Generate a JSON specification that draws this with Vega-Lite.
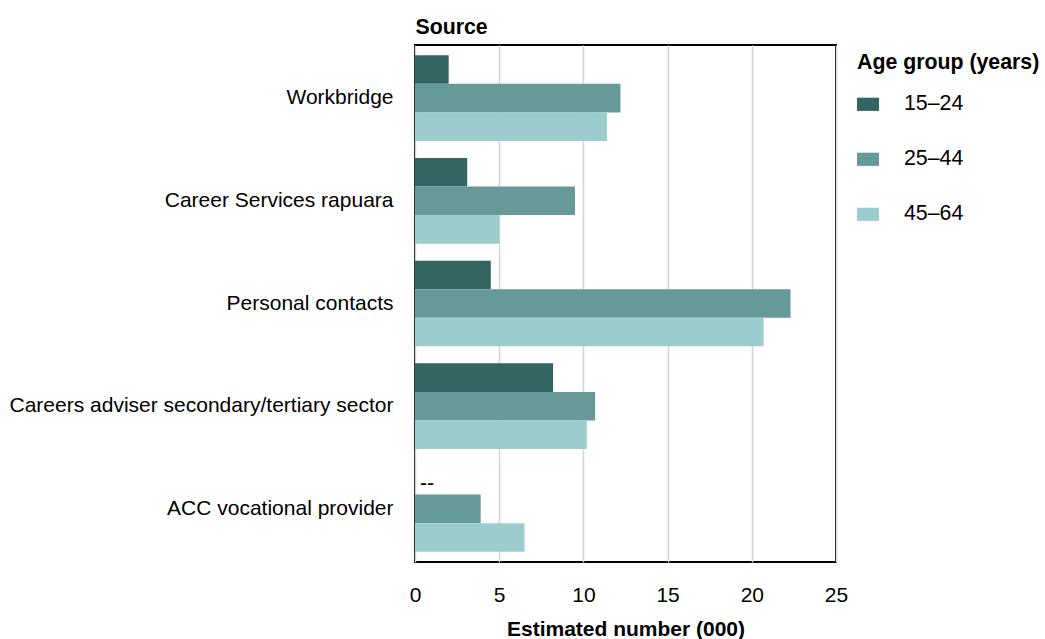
{
  "$schema": "https://vega.github.io/schema/vega-lite/v6.json",
  "autosize": "none",
  "padding": {"left": 415, "top": 45, "right": 209, "bottom": 77},
  "width": 421,
  "height": 517,
  "background": "white",
  "config": {
    "font": "Liberation Sans",
    "view": {"stroke": "#000000", "strokeWidth": 2},
    "axis": {"labelColor": "#000000", "titleColor": "#000000"},
    "legend": {"labelColor": "#000000", "titleColor": "#000000"}
  },
  "data": {
    "values": [
      {"source": "Workbridge", "age": "15–24", "value": 2.0, "label": null},
      {"source": "Workbridge", "age": "25–44", "value": 12.2, "label": null},
      {"source": "Workbridge", "age": "45–64", "value": 11.4, "label": null},
      {"source": "Career Services rapuara", "age": "15–24", "value": 3.1, "label": null},
      {"source": "Career Services rapuara", "age": "25–44", "value": 9.5, "label": null},
      {"source": "Career Services rapuara", "age": "45–64", "value": 5.0, "label": null},
      {"source": "Personal contacts", "age": "15–24", "value": 4.5, "label": null},
      {"source": "Personal contacts", "age": "25–44", "value": 22.3, "label": null},
      {"source": "Personal contacts", "age": "45–64", "value": 20.7, "label": null},
      {"source": "Careers adviser secondary/tertiary sector", "age": "15–24", "value": 8.2, "label": null},
      {"source": "Careers adviser secondary/tertiary sector", "age": "25–44", "value": 10.7, "label": null},
      {"source": "Careers adviser secondary/tertiary sector", "age": "45–64", "value": 10.2, "label": null},
      {"source": "ACC vocational provider", "age": "15–24", "value": null, "label": "--"},
      {"source": "ACC vocational provider", "age": "25–44", "value": 3.9, "label": null},
      {"source": "ACC vocational provider", "age": "45–64", "value": 6.5, "label": null}
    ]
  },
  "encoding": {
    "y": {
      "field": "source",
      "type": "nominal",
      "sort": ["Workbridge", "Career Services rapuara", "Personal contacts", "Careers adviser secondary/tertiary sector", "ACC vocational provider"],
      "scale": {"paddingInner": 0.165, "paddingOuter": 0.1},
      "axis": {
        "title": "Source",
        "titleAngle": 0,
        "titleAlign": "left",
        "titleBaseline": "alphabetic",
        "titleX": 0,
        "titleY": -12,
        "titleFontSize": 21.3,
        "titleFontWeight": "bold",
        "labelFontSize": 21,
        "labelPadding": 22,
        "labelLimit": 500,
        "ticks": false,
        "domain": false
      }
    },
    "yOffset": {
      "field": "age",
      "type": "nominal",
      "sort": ["15–24", "25–44", "45–64"],
      "scale": {"paddingInner": 0, "paddingOuter": 0}
    }
  },
  "layer": [
    {
      "mark": {"type": "bar"},
      "encoding": {
        "x": {
          "field": "value",
          "type": "quantitative",
          "scale": {"domain": [0, 25], "nice": false},
          "axis": {
            "title": "Estimated number (000)",
            "titleFontSize": 21,
            "titleFontWeight": "bold",
            "titlePadding": 13,
            "labelFontSize": 21,
            "labelPadding": 22,
            "labelFlush": false,
            "values": [0, 5, 10, 15, 20, 25],
            "ticks": false,
            "domain": false,
            "grid": true,
            "gridColor": "#d4d4d4",
            "gridWidth": 1.5
          }
        },
        "color": {
          "field": "age",
          "type": "nominal",
          "sort": ["15–24", "25–44", "45–64"],
          "scale": {"domain": ["15–24", "25–44", "45–64"], "range": ["#336563", "#659a99", "#9ccdce"]},
          "legend": {
            "title": "Age group (years)",
            "orient": "none",
            "legendX": 442,
            "legendY": 7,
            "titleFontSize": 21.3,
            "titleFontWeight": "bold",
            "titleLimit": 400,
            "titlePadding": 20,
            "labelFontSize": 21.3,
            "labelOffset": 25,
            "symbolType": "M-1,-0.6H1V0.6H-1Z",
            "symbolSize": 484,
            "symbolStrokeWidth": 0,
            "rowPadding": 33
          }
        }
      }
    },
    {
      "transform": [{"filter": "datum.label != null"}],
      "mark": {"type": "text", "align": "left", "baseline": "middle", "dx": 5, "dy": 4, "fontSize": 21.3, "color": "#000000"},
      "encoding": {
        "x": {"datum": 0, "type": "quantitative"},
        "text": {"field": "label"}
      }
    }
  ]
}
